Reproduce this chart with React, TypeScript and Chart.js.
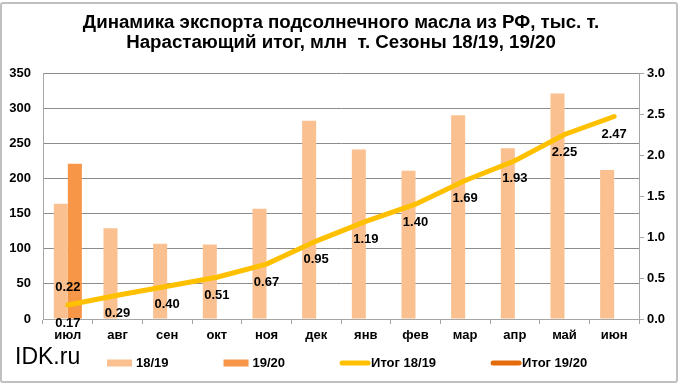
import React, { useEffect, useRef } from "react";
import { Chart, registerables } from "chart.js";

Chart.register(...registerables);

const months = ["июл", "авг", "сен", "окт", "ноя", "дек", "янв", "фев", "мар", "апр", "май", "июн"];
const export1819 = [164, 129, 107, 106, 157, 282, 241, 211, 290, 243, 321, 212];
const export1920 = [221, null, null, null, null, null, null, null, null, null, null, null];
const total1819 = [0.17, 0.29, 0.40, 0.51, 0.67, 0.95, 1.19, 1.40, 1.69, 1.93, 2.25, 2.47];
const total1920 = [0.22, null, null, null, null, null, null, null, null, null, null, null];
const seriesNames = ["18/19", "19/20", "Итог 18/19", "Итог 19/20"];
const titleLines = [
  "Динамика экспорта подсолнечного масла из РФ, тыс. т.",
  "Нарастающий итог, млн  т. Сезоны 18/19, 19/20",
];
const brand = "IDK.ru";

const FONT = "'Liberation Sans', Arial, sans-serif";
const C_BAR1 = "#FAC090";
const C_BAR2 = "#F79646";
const C_LINE1 = "#FFC000";
const C_LINE2 = "#E46C0A";
const GRID = "#8c8c8c";
const AXIS = "#a6a6a6";
const LABEL_WEIGHT = "bold";

const dataLabelPlugin = {
  id: "dataLabels",
  afterDatasetsDraw(chart: any) {
    const ctx = chart.ctx;
    ctx.save();
    ctx.font = `${LABEL_WEIGHT} 13px ${FONT}`;
    ctx.fillStyle = "#000";
    ctx.textAlign = "center";
    ctx.textBaseline = "middle";
    chart.data.datasets.forEach((ds: any, i: number) => {
      if (ds.type !== "line") return;
      const meta = chart.getDatasetMeta(i);
      meta.data.forEach((pt: any, j: number) => {
        const v = ds.data[j];
        if (v === null || v === undefined) return;
        const dy = ds.labelAbove ? -14 : 18;
        ctx.fillText(Number(v).toFixed(2), pt.x, pt.y + dy);
      });
    });
    ctx.restore();
  },
};

const legendPlugin = {
  id: "customLegend",
  afterDraw(chart: any) {
    const ctx = chart.ctx;
    ctx.save();
    // brand
    ctx.font = `23px ${FONT}`;
    ctx.fillStyle = "#000";
    ctx.textAlign = "left";
    ctx.textBaseline = "middle";
    ctx.fillText(brand, 15, 358);

    ctx.font = `${LABEL_WEIGHT} 13px ${FONT}`;
    const y = 363;
    let x = 107;
    chart.data.datasets.forEach((ds: any) => {
      if (ds.type === "line") {
        ctx.strokeStyle = ds.borderColor;
        ctx.lineWidth = 5;
        ctx.lineCap = "round";
        ctx.beginPath();
        ctx.moveTo(x + 2, y);
        ctx.lineTo(x + 28, y);
        ctx.stroke();
        x += 31;
      } else {
        ctx.fillStyle = ds.backgroundColor;
        ctx.fillRect(x, y - 3.5, 25, 7);
        x += 29;
      }
      ctx.fillStyle = "#000";
      ctx.fillText(ds.label, x, y);
      x += ctx.measureText(ds.label).width + 55;
    });
    ctx.restore();
  },
};

export default function App() {
  const ref = useRef<HTMLCanvasElement>(null);
  useEffect(() => {
    if (!ref.current) return;
    const tickFont = { family: FONT, size: 13, weight: LABEL_WEIGHT };
    const chart = new Chart(ref.current, {
      type: "bar",
      data: {
        labels: months,
        datasets: [
          { type: "bar", label: seriesNames[0], data: export1819, backgroundColor: C_BAR1, yAxisID: "y", order: 2 } as any,
          { type: "bar", label: seriesNames[1], data: export1920, backgroundColor: C_BAR2, yAxisID: "y", order: 2 } as any,
          {
            type: "line", label: seriesNames[2], data: total1819, borderColor: C_LINE1, backgroundColor: C_LINE1,
            borderWidth: 5, pointRadius: 0, tension: 0, borderCapStyle: "round", yAxisID: "y2", order: 0,
          } as any,
          {
            type: "line", label: seriesNames[3], data: total1920, borderColor: C_LINE2, backgroundColor: C_LINE2,
            borderWidth: 5, pointRadius: 0, tension: 0, yAxisID: "y2", order: 0, labelAbove: true,
          } as any,
        ],
      },
      options: {
        animation: false,
        responsive: false,
        maintainAspectRatio: false,
        datasets: { bar: { categoryPercentage: 0.565, barPercentage: 1 } },
        layout: { padding: { left: 0, right: 0, top: 0, bottom: 45 } },
        plugins: {
          legend: { display: false },
          tooltip: { enabled: false },
          title: {
            display: true,
            text: titleLines,
            color: "#000",
            font: { family: FONT, size: 18.7, weight: "bold", lineHeight: 1.07 },
            padding: { top: 13, bottom: 20 },
          },
        },
        scales: {
          x: {
            grid: { display: true, drawOnChartArea: false, drawTicks: true, tickLength: 5, color: AXIS },
            border: { display: true, color: AXIS },
            ticks: { color: "#000", font: tickFont as any, padding: 4, maxRotation: 0 },
            afterFit: (s: any) => { s.height = 25; },
          },
          y: {
            position: "left",
            min: 0,
            max: 350,
            ticks: { stepSize: 50, color: "#000", font: tickFont as any, padding: 12 },
            grid: { color: GRID, drawTicks: false },
            border: { display: true, color: AXIS },
            afterFit: (s: any) => { s.width = 43; },
          },
          y2: {
            position: "right",
            min: 0,
            max: 3,
            ticks: {
              stepSize: 0.5, color: "#000", font: tickFont as any, padding: 3,
              callback: (v: any) => Number(v).toFixed(1),
            },
            grid: { drawOnChartArea: false, drawTicks: true, tickLength: 5, color: AXIS },
            border: { display: true, color: AXIS },
            afterFit: (s: any) => { s.width = 43; },
          },
        },
      },
      plugins: [dataLabelPlugin, legendPlugin],
    });
    return () => chart.destroy();
  }, []);

  return (
    <div style={{ position: "absolute", left: 0, top: 0, width: 682, height: 389, background: "#fff" }}>
      <canvas ref={ref} width={682} height={389} style={{ position: "absolute", left: 0, top: 0, width: 682, height: 389 }} />
      <div
        style={{
          position: "absolute", left: 0, top: 2, width: 678, height: 381, boxSizing: "border-box",
          border: "2px solid #c0c0c0", borderRadius: 3, pointerEvents: "none",
        }}
      />
    </div>
  );
}
